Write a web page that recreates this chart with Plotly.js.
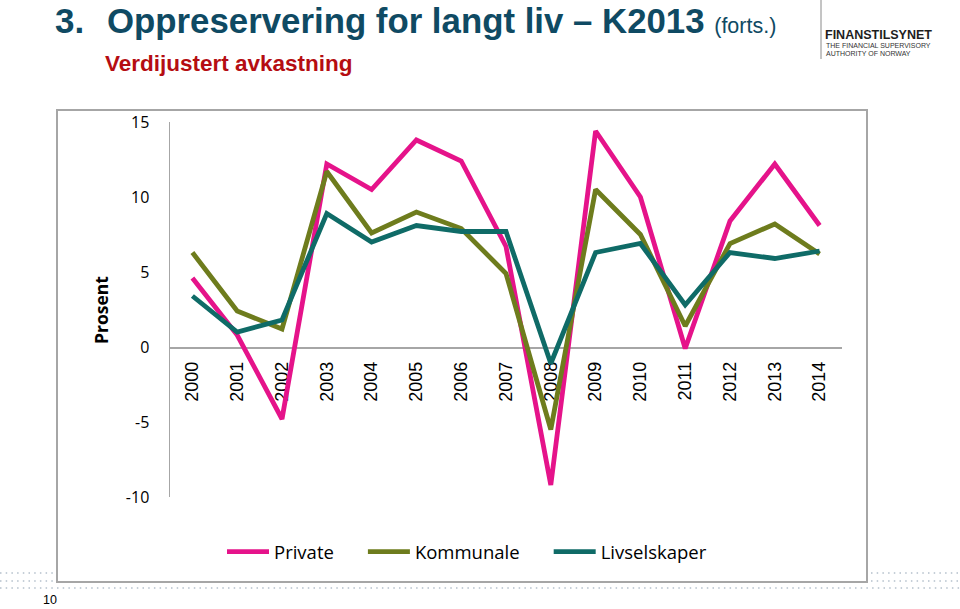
<!DOCTYPE html>
<html>
<head>
<meta charset="utf-8">
<script src="https://cdn.plot.ly/plotly-3.0.1.min.js"></script>
<style>html,body{margin:0;padding:0;background:#fff;}#chart{width:960px;height:609px;}</style>
</head>
<body>
<div id="chart"></div>
<script>
var years = ['2000','2001','2002','2003','2004','2005','2006','2007','2008','2009','2010','2011','2012','2013','2014'];
var privateVals = [4.6, 0.8, -4.8, 12.2, 10.5, 13.8, 12.4, 6.7, -9.2, 14.4, 10.0, -0.1, 8.4, 12.2, 8.1];
var kommunaleVals = [6.3, 2.4, 1.2, 11.7, 7.6, 9.0, 7.9, 4.9, -5.5, 10.5, 7.5, 1.4, 6.9, 8.2, 6.2];
var livselskaperVals = [3.4, 1.0, 1.8, 8.9, 7.0, 8.1, 7.7, 7.7, -1.1, 6.3, 6.9, 2.8, 6.3, 5.9, 6.4];
var seriesNames = ['Private', 'Kommunale', 'Livselskaper'];
var seriesColors = ['#e5138a', '#6e7c1d', '#0f6b67'];
var yTicks = [-10, -5, 0, 5, 10, 15];
var yTickText = ['-10', '-5', '0', '5', '10', '15'];

var W = 960, H = 609;
var M = {l: 170, r: 118, t: 122, b: 112};
var PW = W - M.l - M.r, PH = H - M.t - M.b;
function px(x) { return (x - M.l) / PW; }
function py(y) { return (H - M.b - y) / PH; }

var pad = '\u00a0\u00a0\u00a0\u00a0\u00a0';
var allVals = [privateVals, kommunaleVals, livselskaperVals];
var traces = allVals.map(function (v, i) {
  return {
    x: years, y: v, name: seriesNames[i] + (i < allVals.length - 1 ? pad : ''), type: 'scatter', mode: 'lines',
    line: {color: seriesColors[i], width: 4.8},
    hoverinfo: 'skip'
  };
});

var dotColor = '#b4c0cb';
var dotDash = '1.5px,4.2px';
function hline(x0, x1, y) {
  return {type: 'line', xref: 'paper', yref: 'paper', x0: px(x0), x1: px(x1), y0: py(y), y1: py(y),
    line: {color: dotColor, width: 1.5, dash: dotDash}};
}

var shapes = [
  {type: 'rect', xref: 'paper', yref: 'paper', x0: px(57), x1: px(867), y0: py(582), y1: py(110),
    line: {color: '#a6a6a6', width: 2}, fillcolor: 'rgba(0,0,0,0)', layer: 'below'},
  hline(0, 54, 573), hline(0, 54, 581), hline(871, 960, 573), hline(871, 960, 581), hline(0, 960, 588),
  {type: 'line', xref: 'paper', yref: 'paper', x0: px(821), x1: px(821), y0: py(0), y1: py(59),
    line: {color: '#8a8a8a', width: 1}}
];

var annotations = [
  {xref: 'paper', yref: 'paper', x: px(53), y: py(21), xanchor: 'left', yanchor: 'middle', showarrow: false,
    text: '<b>3.</b>', font: {family: 'Liberation Sans, Arial, sans-serif', size: 35, color: '#0f4a63'}},
  {xref: 'paper', yref: 'paper', x: px(105), y: py(21), xanchor: 'left', yanchor: 'middle', showarrow: false,
    text: '<b>Oppreservering for langt liv – K2013</b> <span style="font-size:21.5px">(forts.)</span>',
    font: {family: 'Liberation Sans, Arial, sans-serif', size: 34.8, color: '#0f4a63'}},
  {xref: 'paper', yref: 'paper', x: px(103), y: py(64), xanchor: 'left', yanchor: 'middle', showarrow: false,
    text: '<b>Verdijustert avkastning</b>',
    font: {family: 'Liberation Sans, Arial, sans-serif', size: 22.5, color: '#b50d12'}},
  {xref: 'paper', yref: 'paper', x: px(823), y: py(35), xanchor: 'left', yanchor: 'middle', showarrow: false,
    text: '<b>FINANSTILSYNET</b>',
    font: {family: 'Liberation Sans, Arial, sans-serif', size: 12.5, color: '#1e1e1e'}},
  {xref: 'paper', yref: 'paper', x: px(824), y: py(46), xanchor: 'left', yanchor: 'middle', showarrow: false,
    text: 'THE FINANCIAL SUPERVISORY',
    font: {family: 'Liberation Sans, Arial, sans-serif', size: 7, color: '#333'}},
  {xref: 'paper', yref: 'paper', x: px(824), y: py(53), xanchor: 'left', yanchor: 'middle', showarrow: false,
    text: 'AUTHORITY OF NORWAY',
    font: {family: 'Liberation Sans, Arial, sans-serif', size: 7, color: '#333'}},
  {xref: 'paper', yref: 'paper', x: px(101), y: py(310), xanchor: 'center', yanchor: 'middle', showarrow: false,
    textangle: -90, text: '<b>Prosent</b>',
    font: {family: 'Open Sans, sans-serif', size: 17.5, color: '#000'}},
  {xref: 'paper', yref: 'paper', x: px(50), y: py(600), xanchor: 'center', yanchor: 'middle', showarrow: false,
    text: '10', font: {family: 'Liberation Sans, Arial, sans-serif', size: 12.5, color: '#000'}}
];

var layout = {
  width: W, height: H,
  margin: M,
  paper_bgcolor: '#fff', plot_bgcolor: 'rgba(0,0,0,0)',
  showlegend: true,
  legend: {orientation: 'h', x: px(222), xanchor: 'left', y: py(552), yanchor: 'middle', itemwidth: 42,
    font: {family: 'Open Sans, sans-serif', size: 18.5, color: '#000'}, bgcolor: 'rgba(0,0,0,0)'},
  xaxis: {type: 'category', range: [-0.5, 14.5], anchor: 'free', position: (0 - yTicks[0]) / (yTicks[yTicks.length - 1] - yTicks[0]),
    showline: true, linecolor: '#a6a6a6', linewidth: 1.5, showgrid: false, zeroline: false, ticks: '',
    tickangle: -90, ticklabelstandoff: 6, layer: 'below traces',
    tickfont: {family: 'Liberation Sans, Arial, sans-serif', size: 18, color: '#000'}, fixedrange: true},
  yaxis: {range: [yTicks[0], yTicks[yTicks.length - 1]], tickvals: yTicks, ticktext: yTickText, showline: true, linecolor: '#a6a6a6', linewidth: 1.5,
    showgrid: false, zeroline: false, ticks: '', ticklabelstandoff: 16,
    tickfont: {family: 'Open Sans, sans-serif', size: 16, color: '#000'}, fixedrange: true},
  shapes: shapes,
  annotations: annotations
};

Plotly.newPlot('chart', traces, layout, {displayModeBar: false, staticPlot: true});
</script>
</body>
</html>
